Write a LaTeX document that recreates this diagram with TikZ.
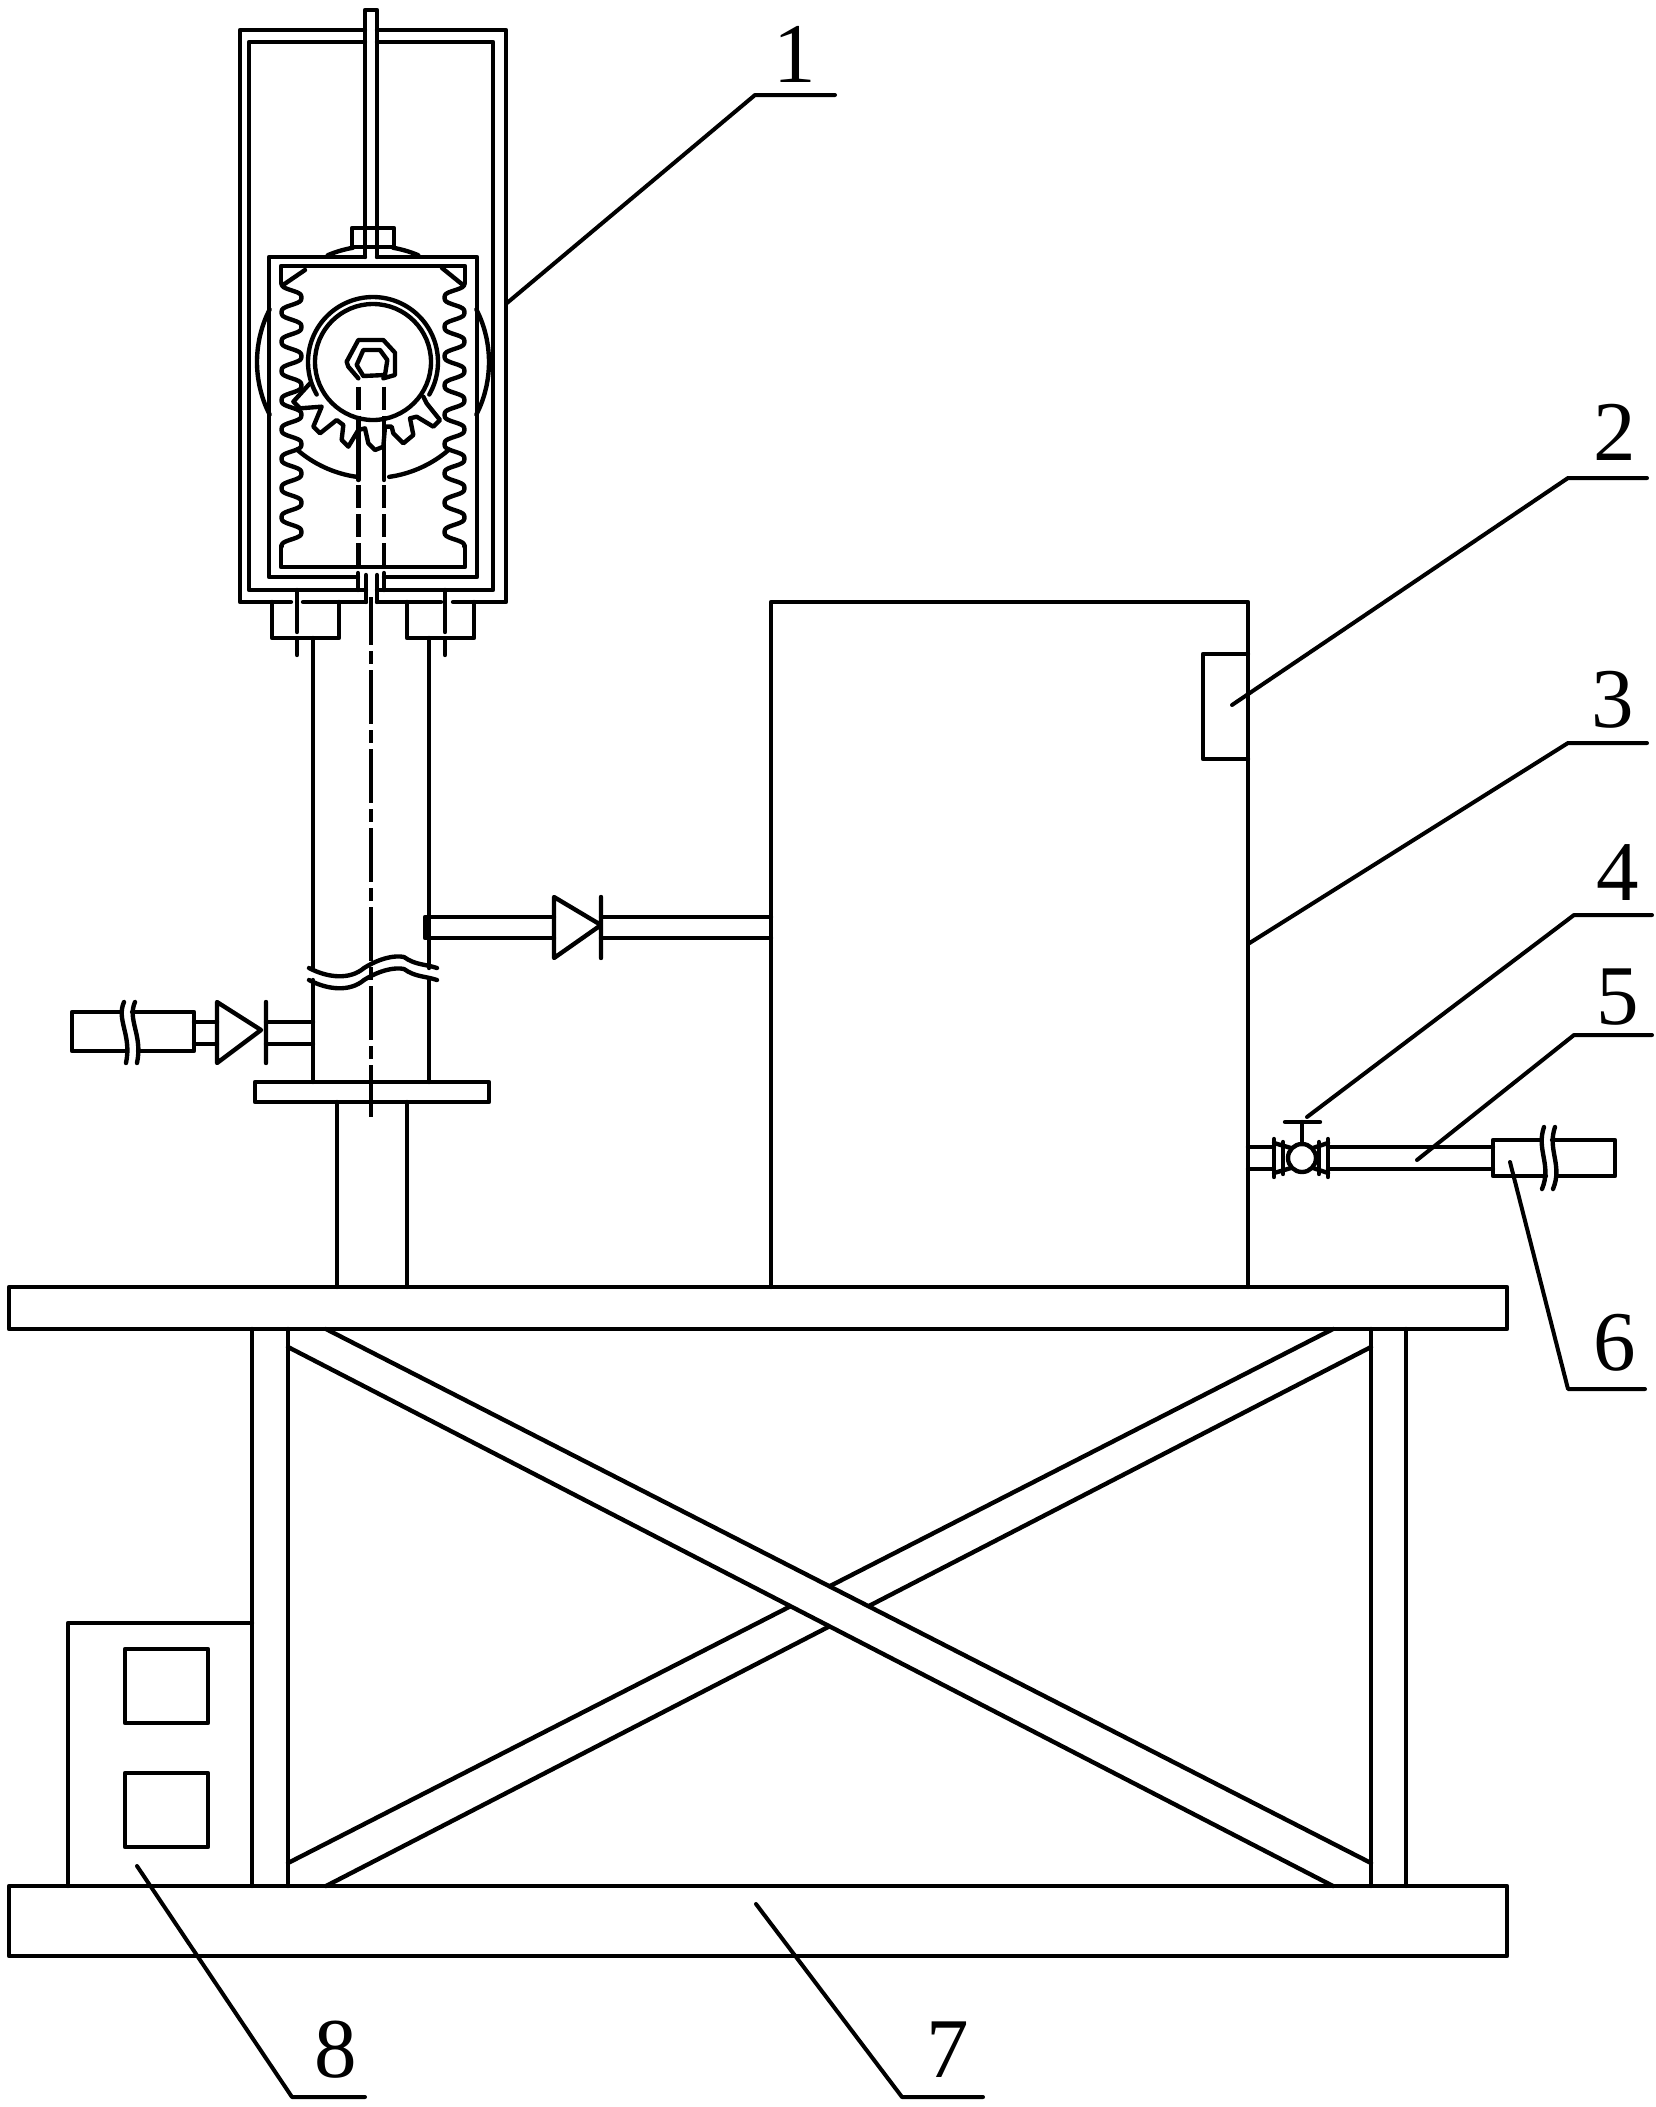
\documentclass[tikz,border=0pt]{standalone}
\usepackage{fontspec}
\setmainfont{Liberation Serif}
\usetikzlibrary{calc}
\tikzset{
	part/.style={line width=1.75pt,line join=round,line cap=round},
	hidden/.style={part,line cap=butt,dash pattern=on 9.2pt off 2.4pt},
	axis/.style={part,line cap=butt,dash pattern=on 21.6pt off 2.4pt on 5.2pt off 2.4pt,dash phase=2.4pt},
	digit/.style={font=\fontsize{34}{34}\selectfont,inner sep=0pt},
	leader/.style={part,line width=1.6pt},
}
\begin{document}
\begin{tikzpicture}[x=0.4pt,y=-0.4pt,part]
	\useasboundingbox (0,0) rectangle (1655,2107);
	% frames and rod
	\draw (365,30) -- (240,30) -- (240,602) -- (291,602) (303,602) -- (366,602);
	\draw (377,30) -- (506,30) -- (506,602) -- (453,602) (441,602) -- (377,602);
	\draw (365,42) -- (249,42) -- (249,590) -- (366,590);
	\draw (377,42) -- (493,42) -- (493,590) -- (377,590);
	\draw (365,257) -- (269,257) -- (269,577) -- (358,577);
	\draw (377,257) -- (477,257) -- (477,577) -- (384,577);
	\draw (365,257) -- (365,10) -- (377,10) -- (377,257);
	\draw (352,247) -- (352,228) -- (394,228) -- (394,247) -- (352,247);
	\draw (366,575) -- (366,602) (377,575) -- (377,602);
	\draw (358,573) -- (358,590) (384,573) -- (384,590);
	% rack
	\draw (281,283) -- (281,266) -- (465,266) -- (465,283);
	\draw (281,546) -- (281,567) -- (465,567) -- (465,546);
	\draw plot[domain=283:546.7,samples=200,smooth] ({291.5-11*(cos((\x-283)/29.3*360)-0.1*cos((\x-283)/29.3*1080))},\x);
	\draw plot[domain=283:546.7,samples=200,smooth] ({454.5+11*(cos((\x-283)/29.3*360)-0.1*cos((\x-283)/29.3*1080))},\x);
	\draw (283,285) -- (305,270) (442,268) -- (463,285);
	% gear
	\foreach \a/\b in {247/260,280/293,153/207,131/98,82/49,-27/27}
		\draw plot[domain=\a:\b,samples=12,smooth] ({373+116*cos(\x)},{362+116*sin(\x)});
	\draw plot[domain=-30:210,samples=50,smooth] ({373+65*cos(\x)},{362-65*sin(\x)});
	\draw (373,362) circle (23.2pt);
	\begin{scope}[shift={(220,300)},scale=1/3]
		\draw (415,235) -- (385,200) -- (380,185) -- (415,120) -- (490,120) -- (525,158) -- (525,225) -- (490,235);
		\draw (430,228) -- (410,195) -- (430,150) -- (480,150) -- (502,180) -- (495,225) -- (430,228);
		\draw (270,250) -- (220,305) -- (240,325) -- (305,320) -- (280,380) -- (300,400) -- (350,360) -- (370,375) -- (365,420) -- (385,440) -- (415,390) -- (435,385) -- (445,430) -- (465,450) -- (490,440) -- (495,380) -- (515,380) -- (520,400) -- (550,430) -- (580,405) -- (570,355) -- (590,350) -- (640,380) -- (660,360) -- (620,310) -- (610,290);
		\foreach \x in {415,492} {
			\draw[hidden] (\x,260) -- (\x,380);
			\draw (\x,380) -- (\x,540);
			\draw[hidden] (\x,555) -- (\x,800);
		}
	\end{scope}
	% flanges and column
	\draw (272,602) -- (272,638) -- (339,638) -- (339,602);
	\draw (407,602) -- (407,638) -- (474,638) -- (474,602);
	\draw (297,590) -- (297,632) (297,640) -- (297,655);
	\draw (445,590) -- (445,632) (445,640) -- (445,655);
	\draw (313,638) -- (313,968) (429,638) -- (429,968);
	\draw (313,980) -- (313,1082) (429,980) -- (429,1082);
	\draw (309,968) .. controls (328,978) and (350,980) .. (364,968) .. controls (380,958) and (395,955) .. (404,957) .. controls (415,965) and (425,964) .. (437,968);
	\draw (309,980) .. controls (328,990) and (350,992) .. (364,980) .. controls (380,970) and (395,967) .. (404,969) .. controls (415,977) and (425,976) .. (437,980);
	\draw (255,1082) rectangle (489,1102);
	\draw (337,1102) -- (337,1287) (407,1102) -- (407,1287);
	\draw[axis] (371,597) -- (371,1117);
	% pipes and valves
	\draw (554,917) -- (425,917) -- (425,938) -- (554,938);
	\draw (601,917) -- (771,917) (601,938) -- (771,938);
	\draw (554,897) -- (554,958) -- (601,925) -- cycle (601,897) -- (601,958);
	\draw (217,1002) -- (217,1063) -- (261,1030) -- cycle (266,1002) -- (266,1063);
	\draw (194,1022) -- (217,1022) (194,1044) -- (217,1044);
	\draw (266,1022) -- (313,1022) (266,1044) -- (313,1044);
	\draw (120,1012) -- (72,1012) -- (72,1051) -- (126,1051);
	\draw (132,1012) -- (194,1012) -- (194,1051) -- (138,1051);
	\foreach \x in {0,11}
		\draw (124+\x,1002) .. controls (116+\x,1020) and (132+\x,1035) .. (126+\x,1063);
	% tank
	\draw (771,1287) -- (771,602) -- (1248,602) -- (1248,1287);
	\draw (1248,654) -- (1203,654) -- (1203,759) -- (1248,759);
	\draw (1248,1147) -- (1274,1147) (1248,1169) -- (1274,1169);
	\draw (1274,1139) -- (1274,1177) (1328,1139) -- (1328,1177);
	\draw (1283,1142) -- (1283,1174) (1319,1142) -- (1319,1174);
	\draw (1274,1143) -- (1291,1148) (1274,1173) -- (1291,1168);
	\draw (1328,1143) -- (1313,1148) (1328,1173) -- (1313,1168);
	\draw (1302,1158) circle (5.6pt);
	\draw (1302,1144) -- (1302,1122) (1285,1122) -- (1320,1122);
	\draw (1328,1147) -- (1493,1147) (1328,1169) -- (1493,1169);
	\draw (1540,1140) -- (1493,1140) -- (1493,1176) -- (1546,1176);
	\draw (1552,1140) -- (1615,1140) -- (1615,1176) -- (1558,1176);
	\foreach \x in {0,11}
		\draw (1544+\x,1127) .. controls (1536+\x,1150) and (1552+\x,1165) .. (1542+\x,1189);
	% table
	\draw (9,1287) rectangle (1507,1329);
	\draw (9,1886) rectangle (1507,1956);
	\draw (252,1329) -- (252,1886) (288,1329) -- (288,1886);
	\draw (1371,1329) -- (1371,1886) (1406,1329) -- (1406,1886);
	\draw (1333,1329) -- (288,1863) (1371,1347) -- (326,1886);
	\fill[white] (326,1331) -- (1369,1863) -- (1333,1884) -- (290,1347) -- cycle;
	\draw (326,1329) -- (1371,1863) (288,1347) -- (1333,1886);
	% control box
	\draw (252,1623) -- (68,1623) -- (68,1886);
	\draw (125,1649) rectangle (208,1723);
	\draw (125,1773) rectangle (208,1847);
	% numbers
	\foreach \i/\ux/\uw/\uy/\ex/\ey/\dx/\dy in {1/755/835/95/507/303/795/54,2/1568/1647/478/1232/705/1615/432,3/1568/1647/743/1248/944/1613/700,4/1574/1652/915/1307/1117/1618/873,5/1574/1652/1035/1417/1160/1618/997,6/1568/1645/1389/1510/1162/1615/1343,7/902/983/2097/756/1904/948/2050,8/292/365/2097/137/1866/336/2050} {
		\coordinate (u\i) at (\ux,\uy);
		\coordinate (v\i) at (\uw,\uy);
		\coordinate (e\i) at (\ex,\ey);
		\node[digit] (n\i) at (\dx,\dy) {\i};
		\draw[leader] (v\i) -- (u\i) -- (e\i);
	}
\end{tikzpicture}
\end{document}
